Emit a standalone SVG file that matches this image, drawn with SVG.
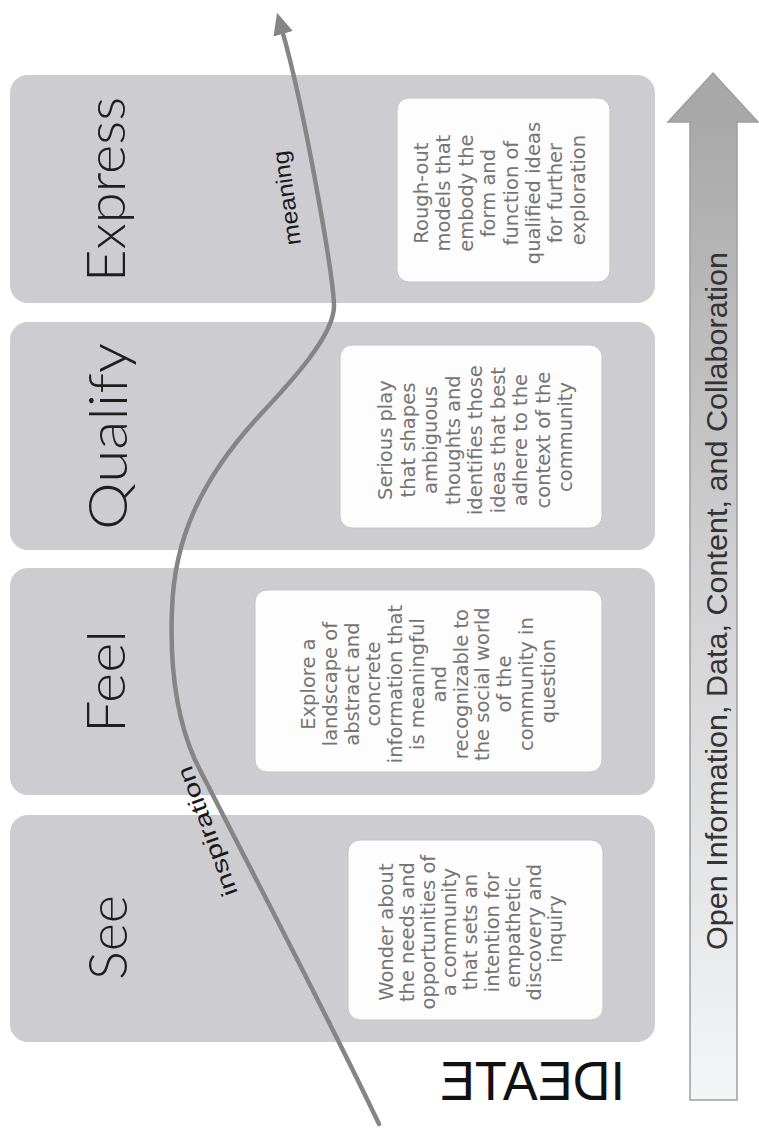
<svg xmlns="http://www.w3.org/2000/svg" width="759" height="1128" viewBox="0 0 759 1128">
  <style>
    .panel { fill: #cdcdd1; }
    .card { fill: #fdfdfd; stroke: #c4c4c6; stroke-width: 1; }
    .stage { font-family: "Lato", "Liberation Sans", sans-serif; font-weight: 300; font-size: 54px; fill: #1e1e1e; }
    .desc { font-family: "DejaVu Sans", "Liberation Sans", sans-serif; font-size: 19.5px; fill: #747474; text-anchor: middle; }
    .flow { fill: none; stroke: #858585; stroke-width: 4.5; stroke-linecap: round; }
    .flowlabel { font-family: "Liberation Sans", sans-serif; font-size: 23px; fill: #1a1a1a; }
    .base { font-family: "Liberation Sans", sans-serif; font-size: 30px; fill: #333333; }
  </style>
  <defs>
    <linearGradient id="baseFill" gradientUnits="userSpaceOnUse" x1="0" y1="110" x2="0" y2="1100">
      <stop offset="0" stop-color="#a8a8a8"/>
      <stop offset="0.5" stop-color="#d3d3d5"/>
      <stop offset="1" stop-color="#f3f5f7"/>
    </linearGradient>
    <marker id="head" viewBox="0 0 22 20" refX="4" refY="10" markerWidth="22" markerHeight="20" markerUnits="userSpaceOnUse" orient="auto">
      <path d="M0,0 L22,10 L0,20 Z" fill="#858585"/>
    </marker>
  </defs>

  <rect width="759" height="1128" fill="#ffffff"/>

  <!-- foundation arrow along the right edge -->
  <g id="foundation">
    <path d="M690,1100 L690,122 L668,122 L713,73 L758,122 L737,122 L737,1100 Z" fill="url(#baseFill)" stroke="#9e9e9e" stroke-width="1.5"/>
    <text class="base" transform="translate(727,950) rotate(-90)" x="0" y="0" textLength="698" lengthAdjust="spacingAndGlyphs">Open Information, Data, Content, and Collaboration</text>
  </g>

  <!-- stage: Express -->
  <g id="express">
    <rect class="panel" x="10" y="75" width="645" height="228" rx="18"/>
    <text class="stage" transform="translate(125,189.5) rotate(-90)" text-anchor="middle" textLength="185" lengthAdjust="spacingAndGlyphs">Express</text>
    <rect class="card" x="397" y="98" width="213" height="184" rx="12"/>
    <text class="desc" transform="translate(428,190) rotate(-90)">
      <tspan x="0" y="0">Rough-out</tspan>
      <tspan x="0" dy="22.4">models that</tspan>
      <tspan x="0" dy="22.4">embody the</tspan>
      <tspan x="0" dy="22.4">form and</tspan>
      <tspan x="0" dy="22.4">function of</tspan>
      <tspan x="0" dy="22.4">qualified ideas</tspan>
      <tspan x="0" dy="22.4">for further</tspan>
      <tspan x="0" dy="22.4">exploration</tspan>
    </text>
  </g>

  <!-- stage: Qualify -->
  <g id="qualify">
    <rect class="panel" x="10" y="322" width="645" height="228" rx="18"/>
    <text class="stage" transform="translate(127,436.5) rotate(-90)" text-anchor="middle" textLength="187" lengthAdjust="spacingAndGlyphs">Qualify</text>
    <rect class="card" x="340" y="345" width="262" height="183" rx="12"/>
    <text class="desc" transform="translate(392,437) rotate(-90)">
      <tspan x="0" y="0">Serious play</tspan>
      <tspan x="0" dy="22.5">that shapes</tspan>
      <tspan x="0" dy="22.5">ambiguous</tspan>
      <tspan x="0" dy="22.5">thoughts and</tspan>
      <tspan x="0" dy="22.5">identifies those</tspan>
      <tspan x="0" dy="22.5">ideas that best</tspan>
      <tspan x="0" dy="22.5">adhere to the</tspan>
      <tspan x="0" dy="22.5">context of the</tspan>
      <tspan x="0" dy="22.5">community</tspan>
    </text>
  </g>

  <!-- stage: Feel -->
  <g id="feel">
    <rect class="panel" x="10" y="568" width="645" height="227" rx="18"/>
    <text class="stage" transform="translate(125,681.5) rotate(-90)" text-anchor="middle" textLength="103" lengthAdjust="spacingAndGlyphs">Feel</text>
    <rect class="card" x="255" y="590" width="347" height="182" rx="12"/>
    <text class="desc" transform="translate(315,681) rotate(-90)">
      <tspan x="0" y="0">Explore a</tspan>
      <tspan x="0" dy="21.8">landscape of</tspan>
      <tspan x="0" dy="21.8">abstract and</tspan>
      <tspan x="0" dy="21.8">concrete</tspan>
      <tspan x="0" dy="21.8">information that</tspan>
      <tspan x="0" dy="21.8">is meaningful</tspan>
      <tspan x="0" dy="21.8">and</tspan>
      <tspan x="0" dy="21.8">recognizable to</tspan>
      <tspan x="0" dy="21.8">the social world</tspan>
      <tspan x="0" dy="21.8">of the</tspan>
      <tspan x="0" dy="21.8">community in</tspan>
      <tspan x="0" dy="21.8">question</tspan>
    </text>
  </g>

  <!-- stage: See -->
  <g id="see">
    <rect class="panel" x="10" y="815" width="645" height="227" rx="18"/>
    <text class="stage" transform="translate(127,937.5) rotate(-90)" text-anchor="middle" textLength="85" lengthAdjust="spacingAndGlyphs">See</text>
    <rect class="card" x="348" y="840" width="255" height="180" rx="12"/>
    <text class="desc" transform="translate(393,929) rotate(-90)">
      <tspan x="0" y="0">Wonder about</tspan>
      <tspan x="0" dy="21.1">the needs and</tspan>
      <tspan x="0" dy="21.1">opportunities of</tspan>
      <tspan x="0" dy="21.1">a community</tspan>
      <tspan x="0" dy="21.1">that sets an</tspan>
      <tspan x="0" dy="21.1">intention for</tspan>
      <tspan x="0" dy="21.1">empathetic</tspan>
      <tspan x="0" dy="21.1">discovery and</tspan>
      <tspan x="0" dy="21.1">inquiry</tspan>
    </text>
  </g>

  <!-- title, set mirrored -->
  <g id="ideate">
    <text transform="matrix(-1 0 0 1 1065 0)" x="440" y="1100" font-family="Liberation Sans, sans-serif" font-size="55" fill="#111111" textLength="185" lengthAdjust="spacingAndGlyphs">IDEATE</text>
  </g>

  <!-- connectors: the inspiration-to-meaning path -->
  <g id="connectors">
    <path class="flow" d="M379,1124 C320,1000 230,830 195,760 C175,715 170,660 172,610 C174,540 200,480 260,415 C290,383 335,335 334,305 C333,275 305,110 282,30" marker-end="url(#head)"/>
    <text class="flowlabel" transform="translate(238,893) rotate(-110)" x="0" y="0" textLength="137" lengthAdjust="spacingAndGlyphs">inspiration</text>
    <text class="flowlabel" transform="translate(301,244) rotate(-98)" x="0" y="0" textLength="95" lengthAdjust="spacingAndGlyphs">meaning</text>
  </g>
</svg>
